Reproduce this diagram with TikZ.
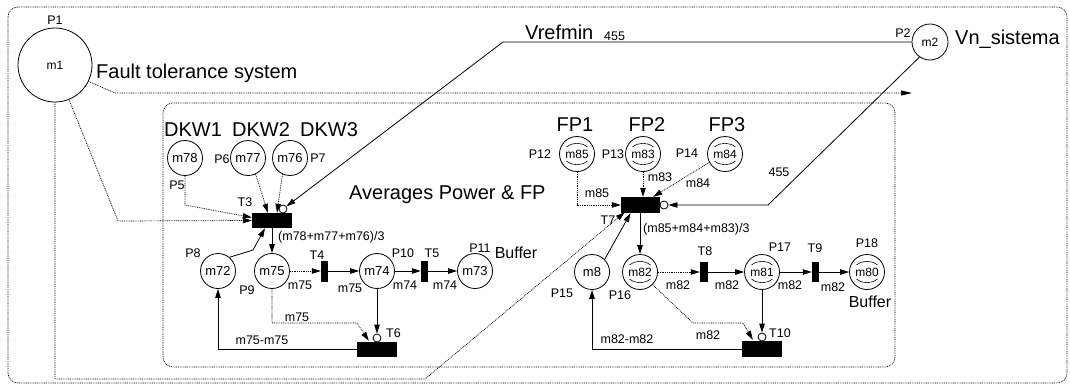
\documentclass[tikz,border=0pt]{standalone}
\usepackage{fontspec}
\setmainfont{Liberation Sans}
\usetikzlibrary{arrows.meta,calc}
\newcommand{\myfs}[1]{\fontsize{#1}{#1}\selectfont}
\begin{document}
\begin{tikzpicture}[x=1pt,y=-1pt,
 place/.style={circle,draw,line width=0.8pt,minimum size=35pt,inner sep=0pt,font=\myfs{13}},
 dplace/.style={place,font=\myfs{12},path picture={
   \coordinate (pc) at (path picture bounding box.center);
   \draw[line width=0.6pt] ($(pc)+(-10.5,-7)$) .. controls ($(pc)+(-4,-12)$) and ($(pc)+(4,-12)$) .. ($(pc)+(10.5,-7)$);
   \draw[line width=0.6pt] ($(pc)+(-10.5,7)$) .. controls ($(pc)+(-4,12)$) and ($(pc)+(4,12)$) .. ($(pc)+(10.5,7)$);}},
 trans/.style={fill=black,draw=none,inner sep=0pt},
 inh/.style={circle,draw,line width=0.8pt,fill=white,minimum size=8pt,inner sep=0pt},
 lbl/.style={font=\myfs{12.5},inner sep=0pt},
 big/.style={font=\myfs{20},inner sep=0pt},
 mid/.style={font=\myfs{16},inner sep=0pt},
 dot/.style={line width=0.7pt,dash pattern=on 0.9pt off 0.9pt},
 arr/.style={line width=0.8pt,-{Triangle[length=9pt,width=5.5pt]}},
 darr/.style={dot,-{Triangle[length=9pt,width=5.5pt]}},
]
\useasboundingbox (0,0) rectangle (1070,386);

% frames
\draw[dot,rounded corners=10pt] (8,7) rectangle (1067,383);
\draw[dot,rounded corners=10pt] (163,103) rectangle (895,367);

% places
\node[place,minimum size=74pt,font=\myfs{12}] (m1) at (55,65) {m1};
\node[place,minimum size=36pt,font=\myfs{12}] (m2) at (930,42) {m2};
\node[place] (m78) at (185,158) {m78};
\node[place] (m77) at (248,158) {m77};
\node[place] (m76) at (290,158) {m76};
\node[place] (m72) at (218,271) {m72};
\node[place] (m75) at (272,271) {m75};
\node[place] (m74) at (377,271) {m74};
\node[place] (m73) at (475,271) {m73};
\node[dplace] (m85) at (577,154) {m85};
\node[dplace] (m83) at (643,154) {m83};
\node[dplace] (m84) at (725,154) {m84};
\node[place] (m8) at (592,272) {m8};
\node[dplace] (m82) at (640,272) {m82};
\node[dplace] (m81) at (762,272) {m81};
\node[dplace] (m80) at (867,272) {m80};

% transitions
\node[trans,minimum width=40pt,minimum height=15pt] (T3) at (272,220.5) {};
\node[trans,minimum width=39pt,minimum height=16pt] (T7) at (640.5,205) {};
\node[trans,minimum width=7pt,minimum height=21pt] (T4) at (324.5,271) {};
\node[trans,minimum width=7pt,minimum height=21pt] (T5) at (424.5,271) {};
\node[trans,minimum width=40pt,minimum height=15pt] (T6) at (377,349.5) {};
\node[trans,minimum width=8pt,minimum height=20pt] (T8) at (704,272) {};
\node[trans,minimum width=7pt,minimum height=20pt] (T9) at (815.5,272) {};
\node[trans,minimum width=40pt,minimum height=16pt] (T10) at (762,349) {};

% inhibitor circles
\node[inh] (inhT3) at (283,209) {};
\node[inh] (inhT7) at (664,205) {};
\node[inh] (inhT6) at (377,338) {};
\node[inh] (inhT10) at (762,337) {};

% connectors from m1
\coordinate (ftEnd) at (912,93);
\draw[dot,-{Triangle[length=11pt,width=5pt]}] (m1.-26) -- (115,93) -- (ftEnd);
\draw[darr] (m1.-68) -- (118,221) -- (T3.west);
\draw[darr] (m1.south) -- (55,379) -- (425,379) -- ($(T7.south west)+(4,-1)$);

% left net
\draw[darr] (m78.south) -- (185,205) -- ($(T3.west)+(0,-3)$);
\draw[darr] (m77.-65) -- ($(T3.north)+(-4,0)$);
\draw[darr] (m76.-115) -- ($(T3.north)+(5,0)$);
\draw[arr] (m2.west) -- (503,42) -- (inhT3);
\draw[arr] (T3.south) -- (m75.north);
\draw[arr] (m72.50) -- (253,250) -- ($(T3.south)+(-7,0)$);
\draw[darr] (m75.east) -- (T4.west);
\draw[arr] (T4.east) -- (m74.west);
\draw[arr] (m74.east) -- (T5.west);
\draw[arr] (T5.east) -- (m73.west);
\draw[arr] (m74.south) -- (inhT6);
\draw[darr] (m75.south) -- (272,323) -- (357,323) -- ($(T6.north west)+(12,-1)$);
\draw[arr] (T6.west) -- (m72 |- T6.west) -- (m72.south);

% right net
\draw[arr] (m2.-125) -- (768,205) -- (inhT7);
\draw[darr] (m85.south) -- (m85 |- T7.west) -- (T7.west);
\draw[darr] (m83.south) -- (m83 |- T7.north);
\draw[darr] (m84.-152) -- ($(T7.north east)+(-7,0)$);
\draw[arr] (m82 |- T7.south) -- (m82.north);
\draw[arr] (m8.45) -- ($(T7.south)+(-10,0)$);
\draw[darr] (m82.east) -- (T8.west);
\draw[arr] (T8.east) -- (m81.west);
\draw[arr] (m81.east) -- (T9.west);
\draw[arr] (T9.east) -- (m80.west);
\draw[arr] (m81.south) -- (inhT10);
\draw[darr] (m82.-45) -- (693,323) -- (743,323) -- ($(T10.north west)+(11,-1)$);
\draw[arr] (T10.west) -- (m8 |- T10.west) -- (m8.south);

% labels
\node[lbl] (lP1) at (55,20) {P1};
\node[big,anchor=west] (lfts) at (96,73) {Fault tolerance system};
\node[big,anchor=west] (lvref) at (525,32) {Vrefmin};
\node[lbl,anchor=west] (lv455) at (604,36) {455};
\node[lbl] (lP2) at (903,33) {P2};
\node[big,anchor=west] (lvn) at (955,39) {Vn\_sistema};
\node[big] (lDKW1) at (193,130) {DKW1};
\node[big] (lDKW2) at (261,130) {DKW2};
\node[big] (lDKW3) at (329,130) {DKW3};
\node[lbl] (lP5) at (177,185) {P5};
\node[lbl] (lP6) at (222,159) {P6};
\node[lbl] (lP7) at (318,158) {P7};
\node[lbl] (lT3) at (245,202) {T3};
\node[big,anchor=west] (lavg) at (349,195) {Averages Power \& FP};
\node[lbl,anchor=west] (lsum1) at (278,237) {(m78+m77+m76)/3};
\node[lbl] (lP8) at (193,253) {P8};
\node[lbl] (lP9) at (247,290) {P9};
\node[lbl] (lT4) at (317,255) {T4};
\node[lbl] (la1) at (300,285) {m75};
\node[lbl] (la2) at (350,288) {m75};
\node[lbl] (lP10) at (403,253) {P10};
\node[lbl] (lT5) at (432,253) {T5};
\node[lbl] (la3) at (405,285) {m74};
\node[lbl] (la4) at (445,285) {m74};
\node[lbl] (lP11) at (480,248) {P11};
\node[mid] (lbuf1) at (516,253) {Buffer};
\node[lbl] (la5) at (297,317) {m75};
\node[lbl,anchor=west] (lT6) at (386,333) {T6};
\node[lbl] (la6) at (262,340) {m75-m75};

\node[big] (lFP1) at (575,125) {FP1};
\node[big] (lFP2) at (647,125) {FP2};
\node[big] (lFP3) at (727,125) {FP3};
\node[lbl] (lP12) at (540,154) {P12};
\node[lbl] (lP13) at (613,154) {P13};
\node[lbl] (lP14) at (687,153) {P14};
\node[lbl] (lb1) at (597,193) {m85};
\node[lbl] (lb2) at (660,177) {m83};
\node[lbl] (lb3) at (698,183) {m84};
\node[lbl] (lb455) at (779,172) {455};
\node[lbl] (lT7) at (608,220) {T7};
\node[lbl,anchor=west] (lsum2) at (643,229) {(m85+m84+m83)/3};
\node[lbl] (lP15) at (562,293) {P15};
\node[lbl] (lP16) at (620,295) {P16};
\node[lbl] (lT8) at (705,251) {T8};
\node[lbl] (lP17) at (780,247) {P17};
\node[lbl] (lT9) at (815,248) {T9};
\node[lbl] (lP18) at (867,243) {P18};
\node[mid] (lbuf2) at (870,302) {Buffer};
\node[lbl] (lb4) at (678,285) {m82};
\node[lbl] (lb5) at (727,285) {m82};
\node[lbl] (lb6) at (790,285) {m82};
\node[lbl] (lb7) at (833,287) {m82};
\node[lbl] (lb8) at (708,335) {m82};
\node[lbl,anchor=west] (lT10) at (769,333) {T10};
\node[lbl] (lb9) at (627,339) {m82-m82};
\end{tikzpicture}
\end{document}
